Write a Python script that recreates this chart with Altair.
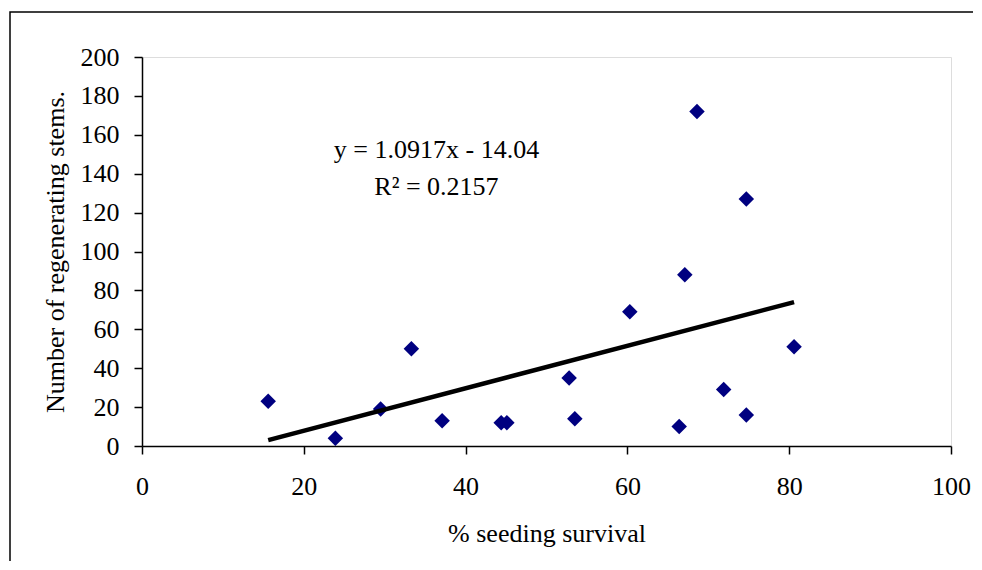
import altair as alt
import pandas as pd

survival = [15.6, 23.9, 29.5, 33.3, 37.1, 44.4, 45.1, 52.8, 53.5, 60.3, 66.4, 67.1, 68.6, 71.9, 74.7, 74.7, 80.6]
stems = [23, 4, 19, 50, 13, 12, 12, 35, 14, 69, 10, 88, 172, 29, 127, 16, 51]

trend_x = [15.6, 80.6]
trend_y = [3.0, 74.0]

eq_text = ["y = 1.0917x - 14.04", "R\u00b2 = 0.2157"]
eq_x = [36.4, 36.4]
eq_y = [148.3, 128.8]

x_ticks = [0, 20, 40, 60, 80, 100]
y_ticks = [0, 20, 40, 60, 80, 100, 120, 140, 160, 180, 200]

FONT = "Liberation Serif"
FS = 26

pts = pd.DataFrame({"x": survival, "y": stems})
trend = pd.DataFrame({"x": trend_x, "y": trend_y})
eq = pd.DataFrame({"x": eq_x, "y": eq_y, "t": eq_text})

xs = alt.Scale(domain=[0, 100], nice=False, zero=False)
ys = alt.Scale(domain=[0, 200], nice=False, zero=False)

xaxis = alt.Axis(values=x_ticks, tickCount=6, title="% seeding survival", grid=False,
                 domainColor="#000000", domainWidth=1.5, tickColor="#000000", tickSize=8, tickWidth=1.5,
                 labelFont=FONT, labelFontSize=FS, labelColor="#000000", labelPadding=40,
                 labelBaseline="alphabetic", labelOverlap=False, labelFlush=False,
                 titleFont=FONT, titleFontSize=FS, titleFontWeight="normal", titleColor="#000000",
                 titleX=404.5, titleY=95.5, titleBaseline="alphabetic", titleAlign="center")
yaxis = alt.Axis(values=y_ticks, tickCount=11, title="Number of regenerating stems.", grid=False,
                 domainColor="#000000", domainWidth=1.5, tickColor="#000000", tickSize=8, tickWidth=1.5,
                 labelFont=FONT, labelFontSize=FS, labelColor="#000000", labelPadding=15,
                 labelOverlap=False, labelFlush=False, labelBound=False,
                 titleFont=FONT, titleFontSize=FS, titleFontWeight="normal", titleColor="#000000",
                 titleX=-79, titleY=194.5, titleAngle=270, titleBaseline="alphabetic", titleAlign="center")

frame = alt.Chart(pd.DataFrame({"a": [0]})).mark_rect(
    filled=False, stroke="#000000", strokeWidth=1.5, clip=False
).encode(x=alt.value(-132), x2=alt.value(850), y=alt.value(-45), y2=alt.value(560))

points = alt.Chart(pts).mark_point(shape="diamond", filled=True, color="#000080", size=240, opacity=1).encode(
    x=alt.X("x:Q", scale=xs, axis=xaxis),
    y=alt.Y("y:Q", scale=ys, axis=yaxis),
)

line = alt.Chart(trend).mark_line(color="#000000", strokeWidth=4.5).encode(
    x=alt.X("x:Q", scale=xs, axis=xaxis), y=alt.Y("y:Q", scale=ys, axis=yaxis)
)

text = alt.Chart(eq).mark_text(font=FONT, fontSize=FS, color="#000000", align="center", baseline="alphabetic").encode(
    x=alt.X("x:Q", scale=xs, axis=xaxis), y=alt.Y("y:Q", scale=ys, axis=yaxis), text="t:N"
)

chart = alt.layer(frame, points, line, text).properties(
    width=809, height=389,
    autosize=alt.AutoSizeParams(type="none"),
    padding={"left": 134, "top": 49, "right": 22, "bottom": 115},
).configure_view(stroke="#808080", strokeWidth=2).configure(background="white", font=FONT)

chart.save("out.html", embed_options={"renderer": "svg", "actions": False})
